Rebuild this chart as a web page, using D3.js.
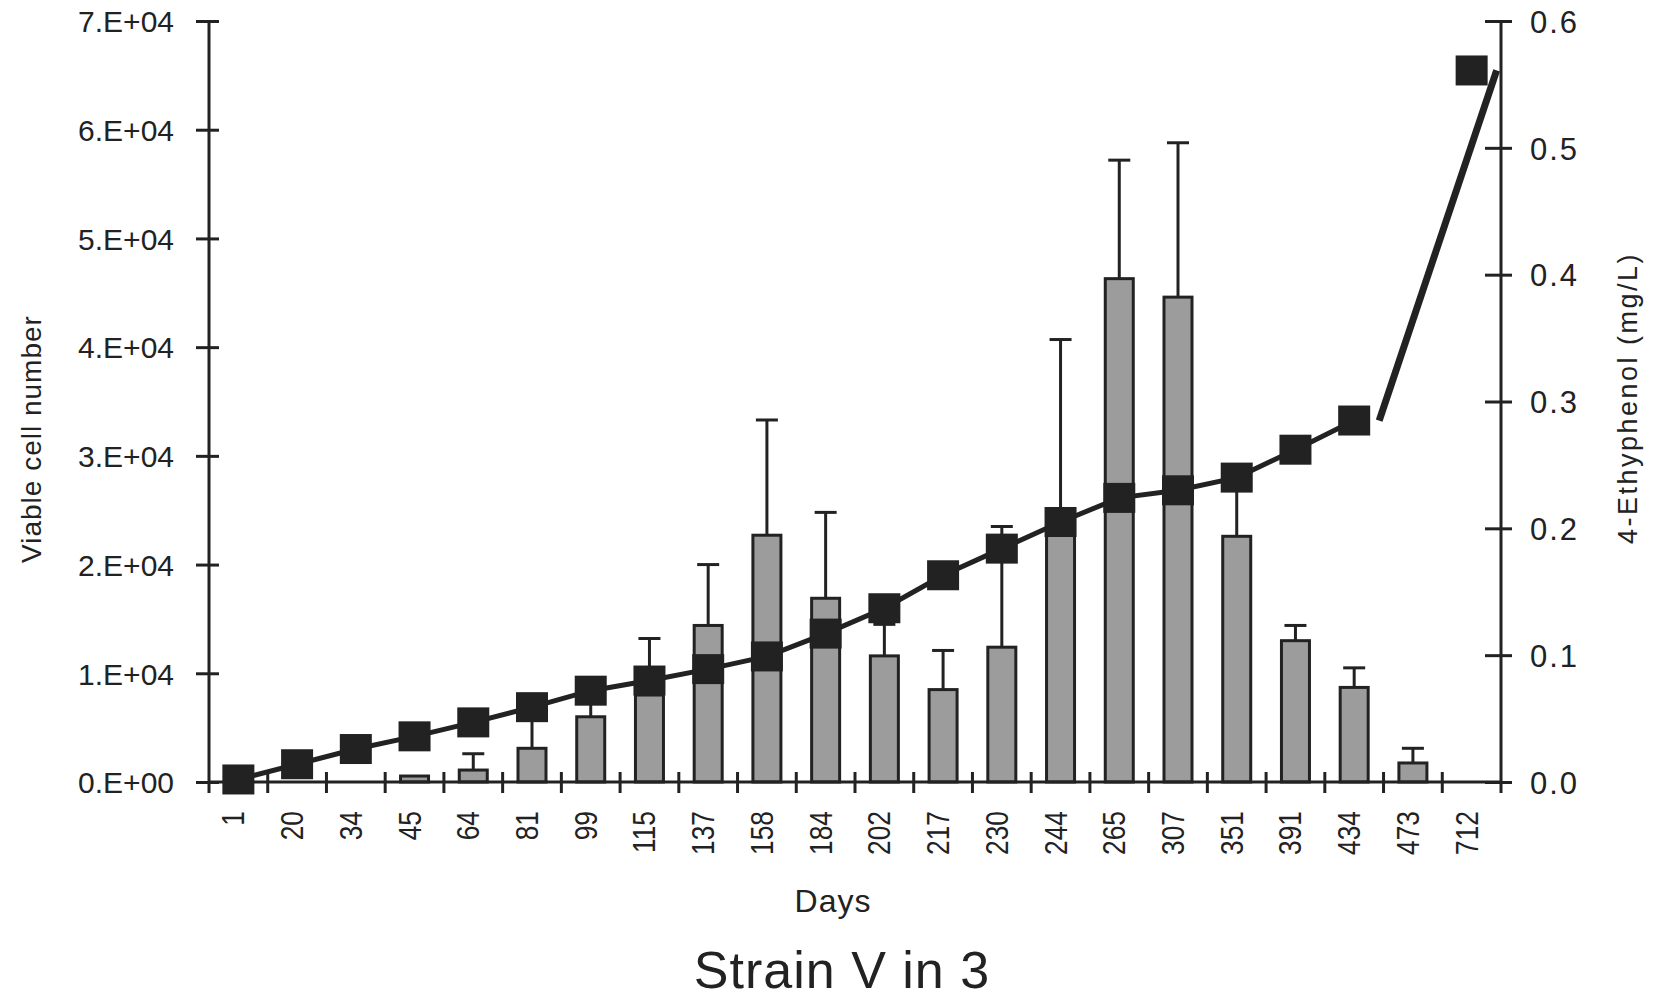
<!DOCTYPE html>
<html>
<head>
<meta charset="utf-8">
<script src="https://cdn.jsdelivr.net/npm/d3@7"></script>
<style>
  body { margin: 0; background: #fff; }
  svg { display: block; }
  text { font-family: "Liberation Sans", Arial, sans-serif; fill: #222; }
</style>
</head>
<body>
<div id="chart"></div>
<script>
// Days (categorical x axis)
const days = ['1', '20', '34', '45', '64', '81', '99', '115', '137', '158', '184',
    '202', '217', '230', '244', '265', '307', '351', '391', '434', '473', '712'];

// Viable cell number (bars) and their standard deviation
const cellCounts = [0, 0, 0, 550, 1100, 3100, 6000, 8000, 14400, 22700, 16900,
    11600, 8500, 12400, 24000, 46300, 44600, 22600, 13000, 8700, 1750, 0];
const cellSd = [0, 0, 0, 0, 1500, 3100, 1500, 5200, 5600, 10600, 7900,
    2900, 3600, 11100, 16700, 10900, 14200, 5400, 1400, 1800, 1350, 0];

// 4-Ethylphenol (mg/L), line on the right axis (no reading on day 473)
const ethylphenol = [0.002, 0.014, 0.026, 0.036, 0.047, 0.059, 0.072, 0.080, 0.089, 0.099, 0.117,
    0.137, 0.163, 0.184, 0.205, 0.224, 0.230, 0.240, 0.262, 0.285, null, 0.561];

const leftTicks = [0, 10000, 20000, 30000, 40000, 50000, 60000, 70000];
const leftTickLabels = ['0.E+00', '1.E+04', '2.E+04', '3.E+04', '4.E+04', '5.E+04', '6.E+04', '7.E+04'];
const rightTicks = [0, 0.1, 0.2, 0.3, 0.4, 0.5, 0.6];
const rightTickLabels = ['0.0', '0.1', '0.2', '0.3', '0.4', '0.5', '0.6'];

const W = 1659, H = 1000;
const plotLeft = 209, plotRight = 1501, plotTop = 21, plotBottom = 782;
const ink = '#222';

const svg = d3.select('#chart').append('svg')
    .attr('width', W)
    .attr('height', H);

// Scales
const x = d3.scaleBand().domain(days).range([plotLeft, plotRight]).padding(0);
const y = d3.scaleLinear().domain([0, 70000]).range([plotBottom, plotTop]);
const y2 = d3.scaleLinear().domain([0, 0.6]).range([plotBottom, plotTop]);

const barW = 28;
const cx = d => x(d) + x.bandwidth() / 2;

// Bars
const rows = days.map((d, i) => ({ day: d, v: cellCounts[i], sd: cellSd[i], e: ethylphenol[i] }));

svg.append('g').selectAll('rect')
    .data(rows.filter(r => r.v > 0))
    .enter()
    .append('rect')
    .attr('x', r => cx(r.day) - barW / 2)
    .attr('y', r => y(r.v))
    .attr('width', barW)
    .attr('height', r => y(0) - y(r.v))
    .attr('fill', '#9c9c9c')
    .attr('stroke', ink)
    .attr('stroke-width', 3);

// Error bars (upper only)
const errs = svg.append('g')
    .attr('stroke', ink)
    .attr('stroke-width', 3);
rows.filter(r => r.sd > 0).forEach(r => {
    errs.append('line')
        .attr('x1', cx(r.day)).attr('x2', cx(r.day))
        .attr('y1', y(r.v)).attr('y2', y(r.v + r.sd));
    errs.append('line')
        .attr('x1', cx(r.day) - 11).attr('x2', cx(r.day) + 11)
        .attr('y1', y(r.v + r.sd)).attr('y2', y(r.v + r.sd));
});

// Axes
// left
const leftAxis = svg.append('g')
    .attr('transform', `translate(${plotLeft},0)`)
    .call(d3.axisLeft(y).tickValues(leftTicks).tickFormat((d, i) => leftTickLabels[i]).tickSizeOuter(0));
leftAxis.select('.domain').remove();
leftAxis.selectAll('.tick line').attr('x1', 10).attr('x2', -13).attr('stroke', ink).attr('stroke-width', 3);
leftAxis.selectAll('.tick text')
    .attr('x', -35)
    .attr('dy', '0.36em')
    .style('font-size', '30px')
    .attr('fill', ink);
leftAxis.append('line')
    .attr('x1', 0).attr('x2', 0).attr('y1', plotTop).attr('y2', plotBottom + 11)
    .attr('stroke', ink).attr('stroke-width', 3);

// right
const rightAxis = svg.append('g')
    .attr('transform', `translate(${plotRight},0)`)
    .call(d3.axisRight(y2).tickValues(rightTicks).tickFormat((d, i) => rightTickLabels[i]).tickSizeOuter(0));
rightAxis.select('.domain').remove();
rightAxis.selectAll('.tick line').attr('x1', -16).attr('x2', 11).attr('stroke', ink).attr('stroke-width', 3);
rightAxis.selectAll('.tick text')
    .attr('x', 29)
    .attr('dy', '0.36em')
    .style('font-size', '31px')
    .style('letter-spacing', '2px')
    .attr('fill', ink);
rightAxis.append('line')
    .attr('x1', 0).attr('x2', 0).attr('y1', plotTop).attr('y2', plotBottom + 11)
    .attr('stroke', ink).attr('stroke-width', 3);

// bottom
const xAxis = svg.append('g');
xAxis.append('line')
    .attr('x1', plotLeft).attr('x2', plotRight).attr('y1', plotBottom).attr('y2', plotBottom)
    .attr('stroke', ink).attr('stroke-width', 3);
xAxis.selectAll('line.tick')
    .data(days.slice(1))
    .enter()
    .append('line')
    .attr('class', 'tick')
    .attr('x1', d => x(d)).attr('x2', d => x(d))
    .attr('y1', plotBottom - 10).attr('y2', plotBottom + 11)
    .attr('stroke', ink).attr('stroke-width', 3);
xAxis.selectAll('text')
    .data(days)
    .enter()
    .append('text')
    .attr('transform', d => `translate(${cx(d) + 6},${plotBottom + 29}) rotate(-90) scale(0.85,1)`)
    .attr('text-anchor', 'end')
    .style('font-size', '31px')
    .text(d => d);

// Ethylphenol line
const line = d3.line()
    .defined(r => r.e != null)
    .x(r => cx(r.day))
    .y(r => y2(r.e));

svg.append('path')
    .datum(rows)
    .attr('d', line)
    .attr('fill', 'none')
    .attr('stroke', ink)
    .attr('stroke-width', 5);

// last stretch across the missing day, drawn shifted as in the original
const known = rows.filter(r => r.e != null);
const lastPair = known.slice(-2);
svg.append('path')
    .datum(lastPair)
    .attr('d', d3.line().x(r => cx(r.day) + 25).y(r => y2(r.e)))
    .attr('fill', 'none')
    .attr('stroke', ink)
    .attr('stroke-width', 7);

// Markers
svg.append('g').selectAll('rect')
    .data(known)
    .enter()
    .append('rect')
    .attr('x', r => cx(r.day) - 16)
    .attr('y', r => y2(r.e) - 15)
    .attr('width', 32)
    .attr('height', 30)
    .attr('fill', ink);

// Titles
svg.append('text')
    .attr('transform', `translate(41,439) rotate(-90)`)
    .attr('text-anchor', 'middle')
    .style('font-size', '28px')
    .style('letter-spacing', '1px')
    .text('Viable cell number');

svg.append('text')
    .attr('transform', `translate(1637,398) rotate(-90)`)
    .attr('text-anchor', 'middle')
    .style('font-size', '27px')
    .style('letter-spacing', '2.5px')
    .text('4-Ethyphenol (mg/L)');

svg.append('text')
    .attr('x', 833)
    .attr('y', 912)
    .attr('text-anchor', 'middle')
    .style('font-size', '32px')
    .style('letter-spacing', '1px')
    .text('Days');

svg.append('text')
    .attr('x', 842)
    .attr('y', 988)
    .attr('text-anchor', 'middle')
    .style('font-size', '52px')
    .style('letter-spacing', '1px')
    .text('Strain V in 3');
</script>
</body>
</html>
